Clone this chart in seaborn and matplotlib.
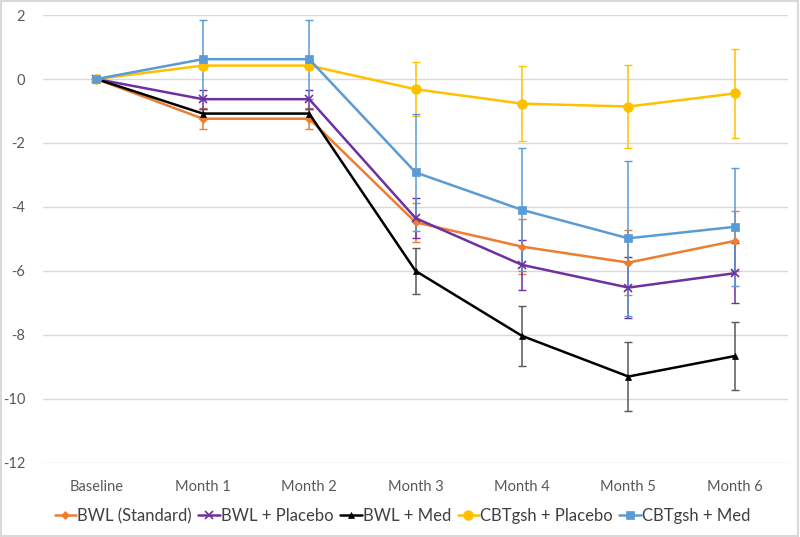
import numpy as np
import pandas as pd
import matplotlib
matplotlib.use("Agg")
import matplotlib.pyplot as plt
from matplotlib.patches import Rectangle
import seaborn as sns

# dados
meses = ["Baseline", "Month 1", "Month 2", "Month 3", "Month 4", "Month 5", "Month 6"]

bwl_standard = [0, -1.24, -1.24, -4.48, -5.24, -5.74, -5.06]
bwl_standard_err = [0, 0.33, 0.33, 0.61, 0.87, 1.01, 0.94]

bwl_placebo = [0, -0.63, -0.63, -4.35, -5.81, -6.52, -6.07]
bwl_placebo_err = [0, 0.30, 0.30, 0.62, 0.78, 0.95, 0.94]

bwl_med = [0, -1.08, -1.08, -6.0, -8.03, -9.3, -8.66]
bwl_med_err = [0, 0.14, 0.14, 0.72, 0.93, 1.08, 1.07]

cbt_placebo = [0, 0.42, 0.42, -0.32, -0.77, -0.86, -0.45]
cbt_placebo_err = [0, 0.1, 0.1, 0.85, 1.17, 1.3, 1.39]

cbt_med = [0, 0.62, 0.62, -2.92, -4.09, -4.98, -4.62]
cbt_med_err = [0, 1.23, 1.23, 1.83, 1.92, 2.43, 1.85]

nomes = ["BWL (Standard)", "BWL + Placebo", "BWL + Med", "CBTgsh + Placebo", "CBTgsh + Med"]
valores = [bwl_standard, bwl_placebo, bwl_med, cbt_placebo, cbt_med]
erros = [bwl_standard_err, bwl_placebo_err, bwl_med_err, cbt_placebo_err, cbt_med_err]
cores = ["#ED7D31", "#7030A0", "#000000", "#FFC000", "#5B9BD5"]
marcadores = ["D", "x", "^", "o", "s"]
tam_marc = [4, 6, 5, 7, 6]

sns.set_style("white")
plt.rcParams["font.family"] = ["Lato", "DejaVu Sans"]
plt.rcParams["axes.unicode_minus"] = False

fig = plt.figure(figsize=(8, 5.37), dpi=100)
ax = fig.add_axes([0.054, 0.138, 0.931, 0.834])

pos = np.arange(len(meses))
for nome, v, e, c, m, ms in zip(nomes, valores, erros, cores, marcadores, tam_marc):
    df = pd.DataFrame({"x": pos, "y": v})
    sns.lineplot(data=df, x="x", y="y", ax=ax, color=c, marker=m, markersize=ms,
                 linewidth=1.8, markeredgecolor=c, markeredgewidth=1.2 if m == "x" else 0.5,
                 label=nome, zorder=3)
    ecor = "#595959" if c == "#000000" else c
    ax.errorbar(pos, v, yerr=e, fmt="none", ecolor=ecor, elinewidth=1.1,
                capsize=3, capthick=1, zorder=2)

ax.set_xlim(-0.5, 6.5)
ax.set_ylim(-12, 2)
ax.set_yticks(range(-12, 3, 2))
ax.set_xticks(pos)
ax.set_xticklabels(meses)
ax.set_xlabel("")
ax.set_ylabel("")
ax.yaxis.grid(True, color="#d9d9d9", linewidth=1)
ax.set_axisbelow(True)
for s in ax.spines.values():
    s.set_visible(False)
ax.tick_params(axis="both", length=0, labelsize=10.5, labelcolor="#595959")
ax.tick_params(axis="x", pad=12)
ax.tick_params(axis="y", pad=13)

ax.get_legend().remove()
handles, labels = ax.get_legend_handles_labels()
leg = fig.legend(handles, labels, loc="center", bbox_to_anchor=(0.503, 0.039), ncol=5,
                 frameon=False, fontsize=12, handlelength=1.3, handletextpad=0.05,
                 columnspacing=0.4)
for t in leg.get_texts():
    t.set_color("#404040")

fig.patches.append(Rectangle((0.001, 0.001), 0.997, 0.997, transform=fig.transFigure,
                             fill=False, edgecolor="#d9d9d9", linewidth=1.5))

fig.savefig("out.png", dpi=100)
